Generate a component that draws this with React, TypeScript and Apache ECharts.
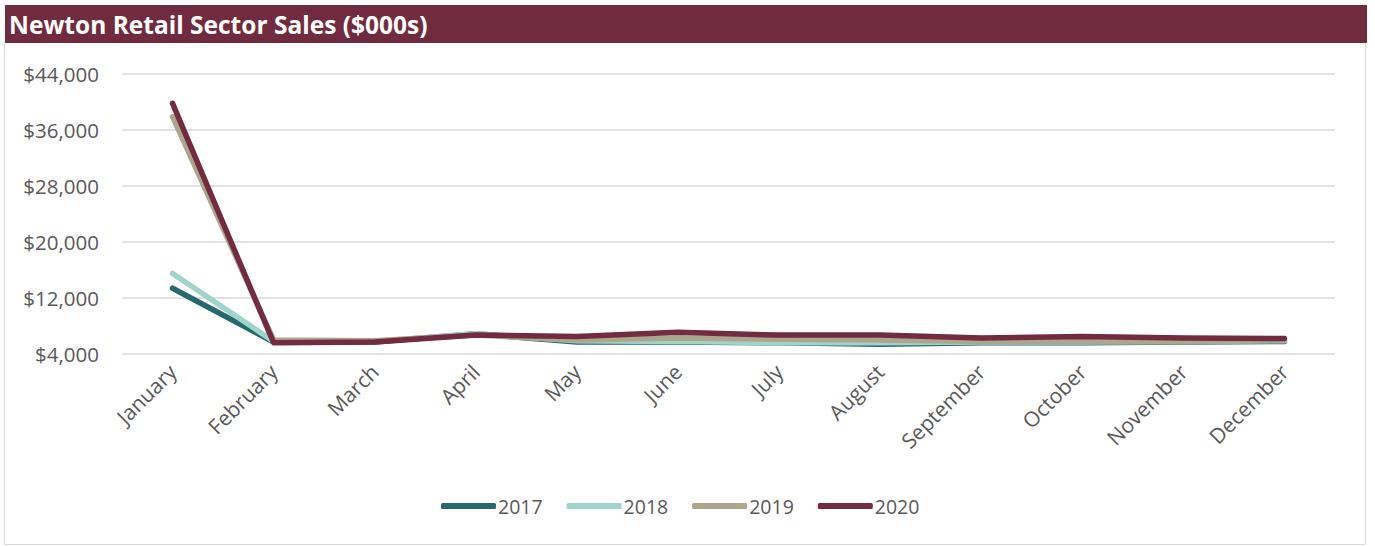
import React, { useEffect, useRef } from "react";
import * as echarts from "echarts";

const TITLE = "Newton Retail Sector Sales ($000s)";
const MONTHS = [
  "January", "February", "March", "April", "May", "June",
  "July", "August", "September", "October", "November", "December",
];
const SALES_2017 = [13400, 5700, 5700, 6900, 5700, 5700, 5600, 5400, 5600, 5600, 5700, 5800];
const SALES_2018 = [15500, 5800, 5800, 6900, 5900, 5800, 5600, 5600, 5700, 5700, 5800, 5900];
const SALES_2019 = [37900, 6000, 5900, 6700, 6000, 6300, 6100, 6000, 5800, 5800, 5800, 6000];
const SALES_2020 = [39800, 5600, 5700, 6700, 6500, 7100, 6700, 6700, 6300, 6500, 6300, 6200];
const SERIES_NAMES = ["2017", "2018", "2019", "2020"];
const SERIES_COLORS = ["#26686D", "#9FD4CC", "#ACA68D", "#722B3F"];
const Y_MIN = 4000;
const Y_MAX = 44000;
const Y_STEP = 8000;

const FONT = "Open Sans";

export default function App() {
  const ref = useRef<HTMLDivElement>(null);

  useEffect(() => {
    document.body.style.margin = "0";
    if (!ref.current) return;
    const chart = echarts.init(ref.current, undefined, { renderer: "svg" });
    const data = [SALES_2017, SALES_2018, SALES_2019, SALES_2020];
    chart.setOption({
      animation: false,
      backgroundColor: "#FFFFFF",
      graphic: [
        {
          type: "rect",
          shape: { x: 4.5, y: 42.5, width: 1361, height: 502 },
          style: { fill: "none", stroke: "#D9D9D9", lineWidth: 1 },
          z: 0,
        },
        {
          type: "rect",
          shape: { x: 5, y: 5, width: 1362, height: 38 },
          style: { fill: "#712B3E" },
          z: 1,
        },
        {
          type: "text",
          x: 9,
          y: 24,
          style: {
            text: TITLE,
            fill: "#FFFFFF",
            font: `bold 24.5px "${FONT}"`,
            textVerticalAlign: "middle",
            verticalAlign: "middle",
          },
          z: 2,
        },
      ],
      grid: { left: 122, right: 40, top: 74, bottom: 192, containLabel: false },
      legend: {
        data: SERIES_NAMES,
        left: 436,
        top: 491,
        itemWidth: 55,
        itemHeight: 6,
        itemGap: 24,
        icon: "roundRect",
        textStyle: { fontFamily: FONT, fontSize: 19.5, color: "#595959", padding: [0, 0, 0, -3] },
      },
      xAxis: {
        type: "category",
        data: MONTHS,
        boundaryGap: true,
        axisLine: { show: false },
        axisTick: { show: false },
        axisLabel: {
          rotate: 45,
          margin: 14,
          fontFamily: FONT,
          fontSize: 21,
          color: "#595959",
          interval: 0,
        },
      },
      yAxis: {
        type: "value",
        min: Y_MIN,
        max: Y_MAX,
        interval: Y_STEP,
        axisLine: { show: false },
        axisTick: { show: false },
        splitLine: { lineStyle: { color: "#D9D9D9", width: 1.5 } },
        axisLabel: {
          margin: 23,
          fontFamily: FONT,
          fontSize: 20.5,
          color: "#595959",
          formatter: (v: number) => "$" + v.toLocaleString("en-US"),
        },
      },
      series: SERIES_NAMES.map((name, i) => ({
        name,
        type: "line",
        data: data[i],
        symbol: "none",
        color: SERIES_COLORS[i],
        lineStyle: { width: 5.5, color: SERIES_COLORS[i], cap: "round", join: "round" },
        itemStyle: { color: SERIES_COLORS[i] },
        z: 2 + i,
      })),
    });
    return () => chart.dispose();
  }, []);

  return (
    <div
      ref={ref}
      style={{ position: "absolute", left: 0, top: 0, width: 1375, height: 546 }}
    />
  );
}
